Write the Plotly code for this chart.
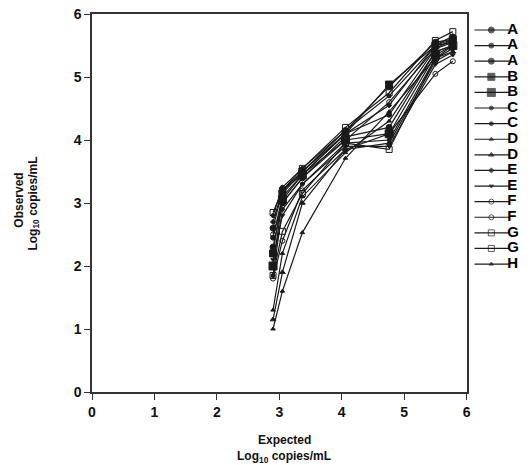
import plotly.graph_objects as go

# ---------------- data ----------------
expected = [2.9, 3.05, 3.37, 4.06, 4.76, 5.5, 5.78]
labels = ["A", "A", "A", "B", "B", "C", "C", "D", "D", "E", "E", "F", "F", "G", "G", "H"]
observed = [
    [2.60, 3.20, 3.50, 4.15, 4.85, 5.55, 5.60],  # A
    [2.45, 3.10, 3.45, 4.10, 4.40, 5.45, 5.55],  # A
    [2.30, 3.00, 3.40, 4.05, 4.20, 5.40, 5.50],  # A
    [2.20, 3.15, 3.50, 4.10, 4.88, 5.50, 5.60],  # B
    [2.00, 3.05, 3.45, 4.00, 4.10, 5.35, 5.50],  # B
    [2.80, 3.25, 3.55, 4.15, 4.70, 5.50, 5.55],  # C
    [1.85, 2.90, 3.30, 3.95, 4.00, 5.30, 5.45],  # C
    [1.30, 2.20, 3.10, 3.80, 4.30, 5.40, 5.50],  # D
    [1.15, 1.90, 3.00, 3.85, 3.95, 5.25, 5.40],  # D
    [2.70, 3.20, 3.45, 4.10, 4.55, 5.50, 5.65],  # E
    [2.10, 2.80, 3.30, 3.90, 3.90, 5.20, 5.35],  # E
    [2.50, 3.00, 3.40, 4.00, 4.60, 5.45, 5.60],  # F
    [1.80, 2.40, 3.20, 3.85, 4.10, 5.05, 5.25],  # F
    [2.85, 3.20, 3.55, 4.20, 4.75, 5.58, 5.72],  # G
    [1.85, 2.55, 3.15, 3.95, 3.85, 5.30, 5.50],  # G
    [1.00, 1.60, 2.53, 3.71, 4.45, 5.30, 5.40],  # H
]
axis_ticks = [0, 1, 2, 3, 4, 5, 6]

# ---------------- styles ----------------
symbols = ["circle", "circle", "circle", "square", "square", "circle", "circle",
           "triangle-up", "triangle-up", "diamond", "triangle-down",
           "circle-open", "circle-open", "square-open", "square-open", "triangle-up"]
msizes = [6, 5, 6, 7, 8, 4, 4, 4, 5, 4, 4, 5, 5, 6, 6, 4]
ink = "#1a1a1a"
FONT = "Liberation Sans"

fig = go.Figure()

for obs, sym, sz in zip(observed, symbols, msizes):
    fig.add_trace(go.Scatter(
        x=expected, y=obs, mode="lines+markers",
        line=dict(color=ink, width=1.2),
        marker=dict(symbol=sym, size=sz, color=ink,
                    line=dict(color=ink, width=1)),
        showlegend=False, xaxis="x", yaxis="y", hoverinfo="skip"))

# ---------------- manual legend on auxiliary axes ----------------
lx, ly = [], []
for i in range(len(labels)):
    lx += [1, 36, None]
    ly += [i, i, None]
fig.add_trace(go.Scatter(x=lx, y=ly, mode="lines", line=dict(color=ink, width=1.2),
                         showlegend=False, xaxis="x2", yaxis="y2", hoverinfo="skip"))
fig.add_trace(go.Scatter(x=[18] * len(labels), y=list(range(len(labels))), mode="markers",
                         marker=dict(symbol=symbols, size=msizes, color=ink,
                                     line=dict(color=ink, width=1)),
                         showlegend=False, xaxis="x2", yaxis="y2", hoverinfo="skip"))
fig.add_trace(go.Scatter(x=[34] * len(labels), y=list(range(len(labels))), mode="text",
                         text=labels, textposition="middle right",
                         textfont=dict(family=FONT, size=15, color="#000", weight="bold"),
                         showlegend=False, xaxis="x2", yaxis="y2", hoverinfo="skip"))

axis_common = dict(
    showgrid=False, zeroline=False, showline=True, linecolor="#333", linewidth=1.5,
    mirror=True, ticks="outside", ticklen=6, tickwidth=1.2, tickcolor="#333",
    tickvals=axis_ticks, ticktext=[str(t) for t in axis_ticks],
    tickfont=dict(family=FONT, size=14, color="#111", weight="bold"),
    range=[0, 6], fixedrange=True,
)

fig.update_layout(
    width=532, height=465,
    margin=dict(l=92, r=0, t=14, b=73),
    paper_bgcolor="white", plot_bgcolor="white",
    xaxis=dict(domain=[0, 378 / 440], **axis_common),
    yaxis=dict(domain=[0, 1], **axis_common),
    xaxis2=dict(domain=[385 / 440, 1], range=[0, 55], visible=False, anchor="y2"),
    yaxis2=dict(domain=[0, 1], range=[23.2, -1.026], visible=False, anchor="x2"),
    showlegend=False,
)

title_font = dict(family=FONT, size=12, color="#111", weight="bold")
ann = [
    dict(text="Expected", x=(286 - 92) / 440, y=(392 - 440) / 378),
    dict(text="Log<sub>10</sub> copies/mL", x=(286 - 92) / 440, y=(392 - 457) / 378),
    dict(text="Observed", x=(18 - 92) / 440, y=(392 - 200) / 378, textangle=-90),
    dict(text="Log<sub>10</sub> copies/mL", x=(33 - 92) / 440, y=(392 - 204) / 378, textangle=-90),
]
for a in ann:
    fig.add_annotation(xref="paper", yref="paper", showarrow=False,
                       xanchor="center", yanchor="middle", font=title_font, **a)

fig.write_html("out.html")
